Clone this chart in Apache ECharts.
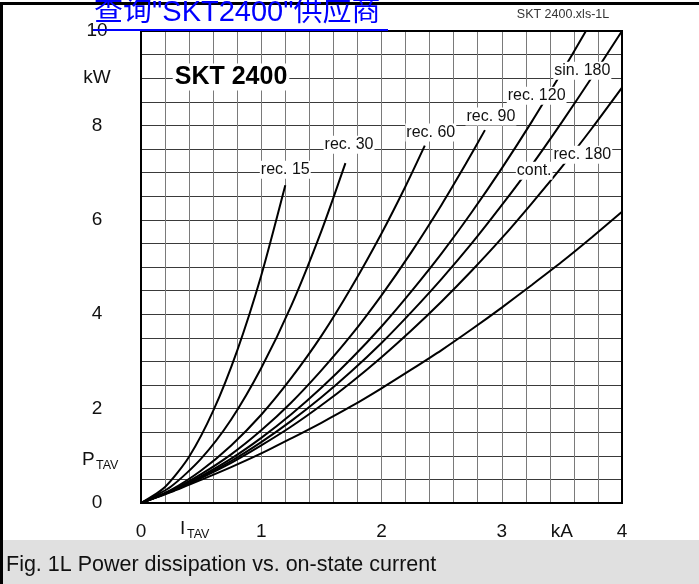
<!DOCTYPE html>
<html><head><meta charset="utf-8">
<script src="https://cdn.jsdelivr.net/npm/echarts@6/dist/echarts.min.js"></script>
<style>html,body{margin:0;padding:0;background:#fff}#c{width:699px;height:584px}</style>
</head><body><div id="c"></div>
<script>
// Data (I_TAV in kA, P_TAV in kW)
const iRec15 = [0, 0.2, 0.4, 0.6, 0.8, 1.0, 1.2];
const pRec15 = [0, 0.34, 0.98, 1.95, 3.23, 4.82, 6.73];
const iRec30 = [0, 0.25, 0.5, 0.75, 1.0, 1.25, 1.5, 1.7];
const pRec30 = [0, 0.35, 0.94, 1.77, 2.86, 4.18, 5.76, 7.20];
const iRec60 = [0, 0.25, 0.5, 0.75, 1.0, 1.25, 1.5, 1.75, 2.0, 2.2, 2.36];
const pRec60 = [0, 0.28, 0.69, 1.22, 1.87, 2.65, 3.54, 4.57, 5.71, 6.71, 7.57];
const iRec90 = [0, 0.25, 0.5, 0.75, 1.0, 1.25, 1.5, 1.75, 2.0, 2.25, 2.5, 2.7, 2.86];
const pRec90 = [0, 0.26, 0.61, 1.03, 1.54, 2.13, 2.81, 3.56, 4.40, 5.32, 6.32, 7.18, 7.90];
const iRec120 = [0, 0.25, 0.5, 0.75, 1.0, 1.25, 1.5, 1.75, 2.0, 2.25, 2.5, 2.75, 3.0, 3.25, 3.5, 3.7];
const pRec120 = [0, 0.25, 0.57, 0.94, 1.38, 1.88, 2.44, 3.06, 3.74, 4.49, 5.29, 6.16, 7.09, 8.08, 9.13, 10.0];
const iSin180 = [0, 0.25, 0.5, 0.75, 1.0, 1.25, 1.5, 1.75, 2.0, 2.25, 2.5, 2.75, 3.0, 3.25, 3.5, 3.75, 4.0];
const pSin180 = [0, 0.25, 0.55, 0.89, 1.29, 1.74, 2.24, 2.79, 3.39, 4.05, 4.75, 5.50, 6.31, 7.16, 8.07, 9.02, 10.0];
const iRec180 = [0, 0.25, 0.5, 0.75, 1.0, 1.25, 1.5, 1.75, 2.0, 2.25, 2.5, 2.75, 3.0, 3.25, 3.5, 3.75, 4.0];
const pRec180 = [0, 0.24, 0.53, 0.85, 1.22, 1.62, 2.07, 2.56, 3.09, 3.66, 4.27, 4.92, 5.61, 6.35, 7.12, 7.94, 8.80];
const iCont = [0, 0.25, 0.5, 0.75, 1.0, 1.25, 1.5, 1.75, 2.0, 2.25, 2.5, 2.75, 3.0, 3.25, 3.5, 3.75, 4.0];
const pCont = [0, 0.23, 0.49, 0.76, 1.05, 1.37, 1.70, 2.05, 2.43, 2.83, 3.24, 3.68, 4.14, 4.62, 5.11, 5.63, 6.17];

const curveNames = ['rec. 15', 'rec. 30', 'rec. 60', 'rec. 90', 'rec. 120', 'sin. 180', 'rec. 180', 'cont.'];
const curveI = [iRec15, iRec30, iRec60, iRec90, iRec120, iSin180, iRec180, iCont];
const curveP = [pRec15, pRec30, pRec60, pRec90, pRec120, pSin180, pRec180, pCont];
// label anchor positions (kA, kW)
const labelI = [1.20, 1.73, 2.41, 2.91, 3.29, 3.67, 3.67, 3.27];
const labelP = [7.06, 7.59, 7.85, 8.19, 8.63, 9.16, 7.38, 7.04];

const xTickLabels = ['0', '1', '2', '3', '4'];
const yTickLabels = ['0', '2', '4', '6', '8', '10'];

const FONT = '"Liberation Sans", Arial, sans-serif';
const chart = echarts.init(document.getElementById('c'));

function near(v, t) { return Math.abs(v - t) < 1e-6; }

const series = curveNames.map((n, k) => ({
  name: n, type: 'line', smooth: 0.25, showSymbol: false, symbol: 'none',
  lineStyle: { color: '#000', width: 2 }, clip: true, z: 5,
  data: curveI[k].map((v, j) => [v, curveP[k][j]])
}));

chart.setOption({
  animation: false,
  backgroundColor: '#fff',
  grid: { left: 141, right: 77, top: 31, bottom: 81, show: true, borderColor: '#000', borderWidth: 2, z: 10 },
  xAxis: {
    type: 'value', min: 0, max: 4, interval: 0.2,
    axisLine: { show: true, onZero: false, lineStyle: { color: '#000', width: 2 } },
    axisTick: { show: false },
    splitLine: { show: true, lineStyle: { color: '#7a7a7a', width: 1 } },
    axisLabel: {
      margin: 19, fontSize: 19, lineHeight: 19, color: '#111', fontFamily: FONT,
      formatter: v => {
        for (const t of xTickLabels) if (near(v, +t)) return t;
        return '';
      }
    }
  },
  yAxis: {
    type: 'value', min: 0, max: 10, interval: 0.5,
    axisLine: { show: true, onZero: false, lineStyle: { color: '#000', width: 2 } },
    axisTick: { show: false },
    splitLine: { show: true, lineStyle: { color: '#3a3a3a', width: 1 } },
    axisLabel: {
      margin: 44, align: 'center', fontSize: 19, color: '#111', fontFamily: FONT,
      formatter: v => {
        for (const t of yTickLabels) if (near(v, +t)) return t;
        if (near(v, 9)) return 'kW';
        return '';
      }
    }
  },
  series: series
});

const els = [];
// outer frame
els.push({ type: 'rect', shape: { x: 0, y: 2, width: 699, height: 3 }, style: { fill: '#000' }, z: 100 });
els.push({ type: 'rect', shape: { x: 0, y: 2, width: 3, height: 582 }, style: { fill: '#000' }, z: 100 });
// caption band
els.push({ type: 'rect', shape: { x: 3, y: 540, width: 696, height: 44 }, style: { fill: '#e0e0e0' }, z: 100 });
els.push({ type: 'text', z: 101, style: { text: 'Fig. 1L Power dissipation vs. on-state current', x: 6, y: 565, font: '21.5px ' + FONT, fill: '#111', align: 'left', verticalAlign: 'middle', textAlign: 'left', textVerticalAlign: 'middle' } });
// file name
els.push({ type: 'text', z: 101, style: { text: 'SKT 2400.xls-1L', x: 563, y: 15, font: '12.5px ' + FONT, fill: '#333', align: 'center', verticalAlign: 'middle', textAlign: 'center', textVerticalAlign: 'middle' } });
// link text
els.push({ type: 'text', z: 102, style: { text: '查询"SKT2400"供应商', x: 94, y: 13, font: '29px ' + FONT + ', "Noto Sans CJK SC"', fill: '#0000ff', align: 'left', verticalAlign: 'middle', textAlign: 'left', textVerticalAlign: 'middle' } });
els.push({ type: 'rect', shape: { x: 93, y: 29, width: 295, height: 2 }, style: { fill: '#0000ff' }, z: 102 });
// device label
els.push({ type: 'text', z: 101, style: { text: 'SKT 2400', x: 231, y: 77, font: 'bold 25px ' + FONT, fill: '#000', backgroundColor: '#fff', padding: [1, 2], align: 'center', verticalAlign: 'middle', textAlign: 'center', textVerticalAlign: 'middle' } });
// axis names
els.push({ type: 'text', z: 101, style: { text: 'P', x: 82, y: 460, font: '19px ' + FONT, fill: '#111', align: 'left', verticalAlign: 'middle', textAlign: 'left', textVerticalAlign: 'middle' } });
els.push({ type: 'text', z: 101, style: { text: 'TAV', x: 96, y: 466, font: '12.5px ' + FONT, fill: '#111', align: 'left', verticalAlign: 'middle', textAlign: 'left', textVerticalAlign: 'middle' } });
els.push({ type: 'text', z: 101, style: { text: 'I', x: 180, y: 529, font: '19px ' + FONT, fill: '#111', align: 'left', verticalAlign: 'middle', textAlign: 'left', textVerticalAlign: 'middle' } });
els.push({ type: 'text', z: 101, style: { text: 'TAV', x: 187, y: 535, font: '12.5px ' + FONT, fill: '#111', align: 'left', verticalAlign: 'middle', textAlign: 'left', textVerticalAlign: 'middle' } });
const kaPt = chart.convertToPixel({ gridIndex: 0 }, [3.5, 0]);
els.push({ type: 'text', z: 101, style: { text: 'kA', x: kaPt[0], y: 532, font: '19px ' + FONT, fill: '#111', align: 'center', verticalAlign: 'middle', textAlign: 'center', textVerticalAlign: 'middle' } });
// curve labels
curveNames.forEach((n, k) => {
  const p = chart.convertToPixel({ gridIndex: 0 }, [labelI[k], labelP[k]]);
  els.push({ type: 'text', z: 101, style: { text: n, x: p[0], y: p[1], font: '16px ' + FONT, fill: '#111', backgroundColor: '#fff', padding: [1, 1], align: 'center', verticalAlign: 'middle', textAlign: 'center', textVerticalAlign: 'middle' } });
});
chart.setOption({ graphic: { elements: els } });
</script></body></html>
